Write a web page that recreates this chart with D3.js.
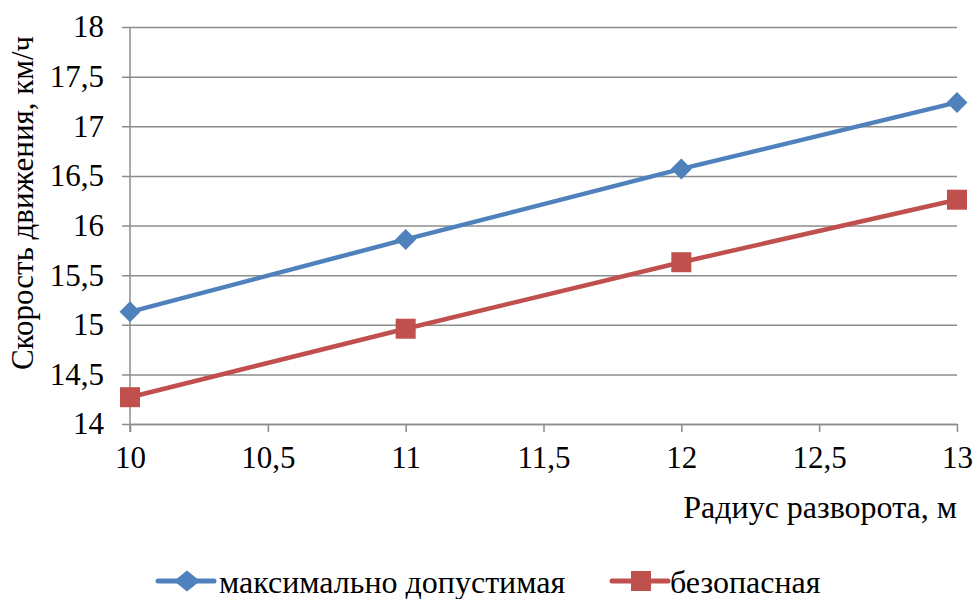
<!DOCTYPE html>
<html>
<head>
<meta charset="utf-8">
<script src="https://cdn.jsdelivr.net/npm/d3@7/dist/d3.min.js"></script>
<style>
  html, body { margin: 0; padding: 0; background: #fff; }
  svg { display: block; }
</style>
</head>
<body>
<svg id="chart" width="976" height="599"></svg>
<script>
// Turning radius, m
const radius = [10, 11, 12, 13];
// Speed, km/h
const maxAllowed = [15.13, 15.86, 16.57, 17.24];
const safe = [14.27, 14.96, 15.63, 16.26];

const seriesNames = ["максимально допустимая", "безопасная"];
const xTicks = [10, 10.5, 11, 11.5, 12, 12.5, 13];
const yTicks = [14, 14.5, 15, 15.5, 16, 16.5, 17, 17.5, 18];

const colors = ["#4F81BD", "#C0504D"];
const FONT = "'Liberation Serif', 'Times New Roman', serif";
const fmt = v => String(v).replace(".", ",");

const svg = d3.select("#chart");
const plotLeft = 130, plotRight = 957, plotTop = 27, plotBottom = 424;

const x = d3.scaleLinear().domain([10, 13]).range([plotLeft, plotRight]);
const y = d3.scaleLinear().domain([14, 18]).range([plotBottom, plotTop]);

// horizontal gridlines with small ticks left of the axis
const yAxis = d3.axisLeft(y).tickValues(yTicks).tickFormat(fmt)
  .tickSize(-(plotRight - plotLeft)).tickSizeOuter(0).tickPadding(26);
const gy = svg.append("g").attr("transform", `translate(${plotLeft},0)`).call(yAxis);
gy.select(".domain").remove();
gy.selectAll(".tick line").attr("stroke", "#8c8c8c").attr("stroke-width", 1.5)
  .attr("x1", -8);
gy.selectAll(".tick text").style("font-family", FONT).style("font-size", "31px")
  .attr("fill", "#000");

// vertical axis line
svg.append("line").attr("x1", plotLeft).attr("x2", plotLeft)
  .attr("y1", plotTop).attr("y2", plotBottom + 8)
  .attr("stroke", "#8c8c8c").attr("stroke-width", 1.5);

// x axis
const xAxis = d3.axisBottom(x).tickValues(xTicks).tickFormat(fmt)
  .tickSize(8).tickSizeOuter(0).tickPadding(14);
const gx = svg.append("g").attr("transform", `translate(0,${plotBottom})`).call(xAxis);
gx.select(".domain").attr("stroke", "#8c8c8c").attr("stroke-width", 1.5);
gx.selectAll(".tick line").attr("stroke", "#8c8c8c").attr("stroke-width", 1.5);
gx.selectAll(".tick text").style("font-family", FONT).style("font-size", "31px")
  .attr("fill", "#000");

// axis titles
svg.append("text").attr("x", plotRight).attr("y", 518).attr("text-anchor", "end")
  .style("font-family", FONT).style("font-size", "32px").text("Радиус разворота, м");
svg.append("text").attr("transform", `translate(33,203) rotate(-90)`)
  .attr("text-anchor", "middle").style("font-family", FONT).style("font-size", "31px")
  .text("Скорость движения, км/ч");

const series = [maxAllowed, safe];
const line = d3.line().x((d, i) => x(radius[i])).y(d => y(d));

function marker(g, k, cx, cy, wide) {
  if (k === 0) {
    const w = wide ? 13 : 10.5, h = 10.5;
    g.append("path")
      .attr("d", `M${cx},${cy - h}L${cx + w},${cy}L${cx},${cy + h}L${cx - w},${cy}Z`)
      .attr("fill", colors[0]);
  } else {
    g.append("rect").attr("x", cx - 10).attr("y", cy - 10).attr("width", 20).attr("height", 20)
      .attr("fill", colors[1]);
  }
}

series.forEach((vals, k) => {
  const g = svg.append("g");
  g.append("path").datum(vals).attr("d", line).attr("fill", "none")
    .attr("stroke", colors[k]).attr("stroke-width", 4.5).attr("stroke-linejoin", "round");
  vals.forEach((v, i) => marker(g, k, x(radius[i]), y(v), false));
});

// legend
const legendItems = [{ x0: 158, tx: 219 }, { x0: 612, tx: 670 }];
legendItems.forEach((it, k) => {
  const g = svg.append("g");
  const ly = 581;
  g.append("line").attr("x1", it.x0).attr("x2", it.x0 + 56).attr("y1", ly).attr("y2", ly)
    .attr("stroke", colors[k]).attr("stroke-width", 5).attr("stroke-linecap", "round");
  marker(g, k, it.x0 + 29, ly, true);
  g.append("text").attr("x", it.tx).attr("y", 593)
    .style("font-family", FONT).style("font-size", "32px").text(seriesNames[k]);
});
</script>
</body>
</html>
